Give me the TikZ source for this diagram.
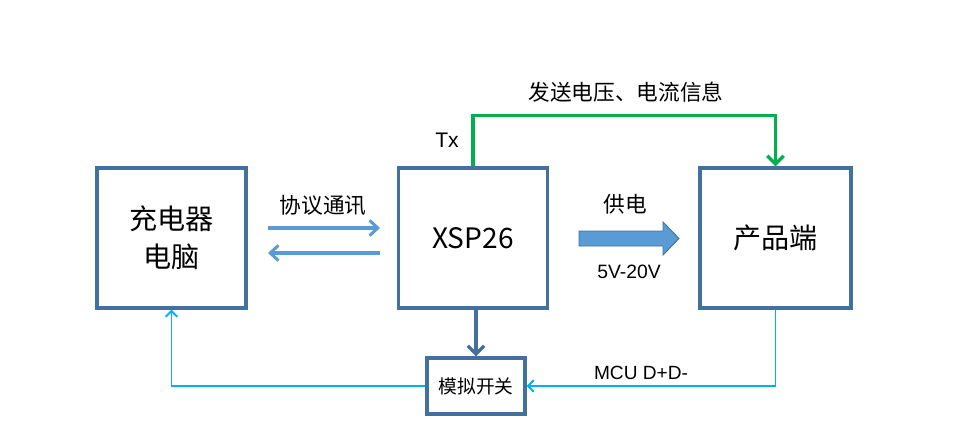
\documentclass[tikz,border=0pt]{standalone}
\usepackage{fontspec}
\setmainfont{Liberation Sans}
\newfontfamily\cjk{Noto Sans CJK SC}
\usetikzlibrary{arrows.meta}
\definecolor{boxline}{HTML}{41719C}
\definecolor{linkblue}{HTML}{5B9BD5}
\definecolor{dline}{HTML}{00B0F0}
\definecolor{txgreen}{HTML}{00B050}
\tikzset{
  block/.style={draw=boxline,line width=2.8pt,minimum width=4.47cm,minimum height=4.2cm,font=\cjk\fontsize{24}{32}\selectfont,align=center},
  label/.style={font=\cjk\fontsize{18.5}{22}\selectfont}
}
\begin{document}
\begin{tikzpicture}[x=0.03cm,y=-0.03cm]
    \useasboundingbox (0,0) rectangle (973,446);

    %Boxes
    \node[block] (pc) at (171.5,238) {充电器\\电脑};
    \node[block] (xsp) at (473,238) {\fontsize{24}{28}\selectfont XSP26};
    \node[block,minimum width=4.53cm] (prod) at (775.5,238) {产品端};
    \node[draw=boxline,line width=2.8pt,minimum width=2.94cm,minimum height=1.68cm,font=\cjk\fontsize{16}{19}\selectfont] (switch) at (476,386) {模拟开关};

    %Protocol arrows
    \coordinate (pcR1) at (268,228);
    \coordinate (xspL1) at (380,228);
    \coordinate (pcR2) at (268,253);
    \coordinate (xspL2) at (380,253);
    \draw[linkblue,line width=2.6pt,-{Straight Barb[length=7pt,width=13pt]}] (pcR1) -- (xspL1);
    \draw[linkblue,line width=2.6pt,-{Straight Barb[length=7pt,width=13pt]}] (xspL2) -- (pcR2);
    \node[label] (proto) at (323,205) {协议通讯};

    %Power arrow
    \draw[boxline,fill=linkblue,line width=0.8pt] (579,231) -- (663,231) -- (663,222) -- (679,238.5)
      -- (663,255) -- (663,246) -- (579,246) -- cycle;
    \node[label] (powerlbl) at (625,204) {供电};
    \node[font=\fontsize{16.5}{20}\selectfont] (volt) at (629,272) {5V-20V};

    %Tx line
    \draw[txgreen,line width=2.8pt,-{Straight Barb[length=7pt,width=14pt]}] (xsp.north) -- ++(0,-51) -| (prod.north);
    \node[font=\fontsize{18}{21}\selectfont] (tx) at (447,140) {Tx};
    \node[label] (info) at (626,92) {发送电压、电流信息};

    %Switch
    \draw[boxline,line width=2.8pt,-{Straight Barb[length=7pt,width=14pt]}] (switch.north |- xsp.south) -- (switch.north);
    \draw[dline,line width=1.6pt,-{Straight Barb[length=5pt,width=10pt]}] (prod.south) |- (switch.east);
    \draw[dline,line width=1.6pt,-{Straight Barb[length=5pt,width=10pt]}] (switch.west) -| (pc.south);
    \node[font=\fontsize{16.3}{19}\selectfont] (mcu) at (641,373) {MCU D+D-};
  \end{tikzpicture}
\end{document}
